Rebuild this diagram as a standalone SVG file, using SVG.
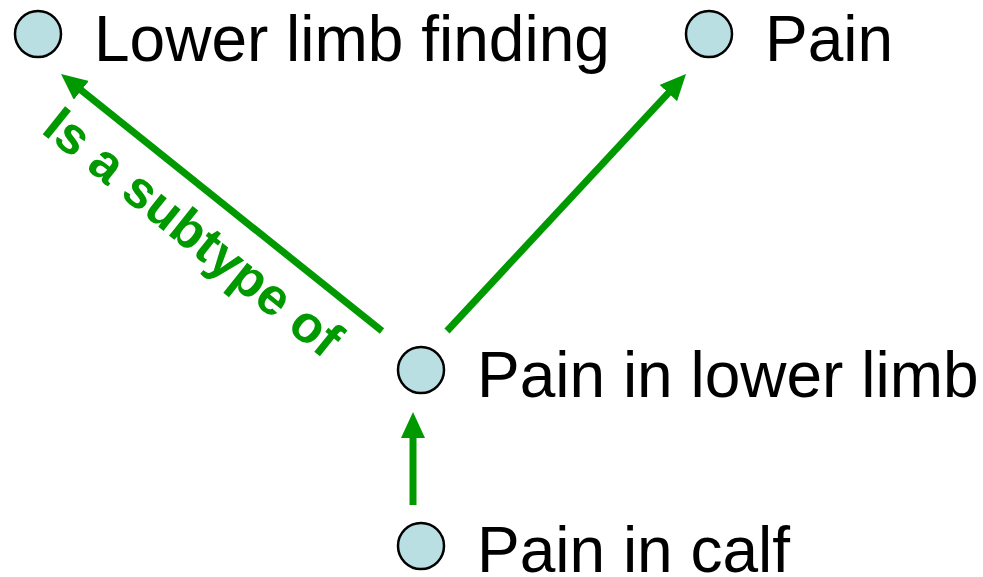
<svg xmlns="http://www.w3.org/2000/svg" width="983" height="577" viewBox="0 0 983 577">
  <style>
    .node circle { fill: #b9dfe2; stroke: #000; stroke-width: 2.5; }
    .node text { font-family: "Liberation Sans", Arial, sans-serif; font-size: 64px; fill: #000; }
    .edge { stroke: #009900; stroke-width: 7; fill: none; }
    .label { font-family: "Liberation Sans", Arial, sans-serif; font-weight: bold; font-size: 52px; fill: #009900; }
  </style>
  <defs>
    <!-- solid triangular head; its tip sits 10px past the line end -->
    <marker id="arrow" markerUnits="userSpaceOnUse" markerWidth="26" markerHeight="24" viewBox="0 0 26 24" refX="16" refY="12" orient="auto">
      <path d="M0,0 L26,12 L0,24 Z" fill="#009900"/>
    </marker>
  </defs>

  <g id="connectors">
    <line class="edge" x1="382" y1="331" x2="68.8" y2="80.3" marker-end="url(#arrow)"/>
    <line class="edge" x1="447" y1="331" x2="679.2" y2="81.3" marker-end="url(#arrow)"/>
    <line class="edge" x1="413" y1="505" x2="413" y2="422" marker-end="url(#arrow)"/>
    <text class="label" transform="translate(40,132) rotate(38.7)">Is a subtype of</text>
  </g>

  <g id="lower-limb-finding" class="node">
    <circle cx="38" cy="34" r="23"/>
    <text x="94" y="61">Lower limb finding</text>
  </g>
  <g id="pain" class="node">
    <circle cx="709" cy="34" r="23"/>
    <text x="765" y="61">Pain</text>
  </g>
  <g id="pain-in-lower-limb" class="node">
    <circle cx="421" cy="370" r="23"/>
    <text x="477" y="397">Pain in lower limb</text>
  </g>
  <g id="pain-in-calf" class="node">
    <circle cx="421" cy="546" r="23"/>
    <text x="477" y="572">Pain in calf</text>
  </g>
</svg>
